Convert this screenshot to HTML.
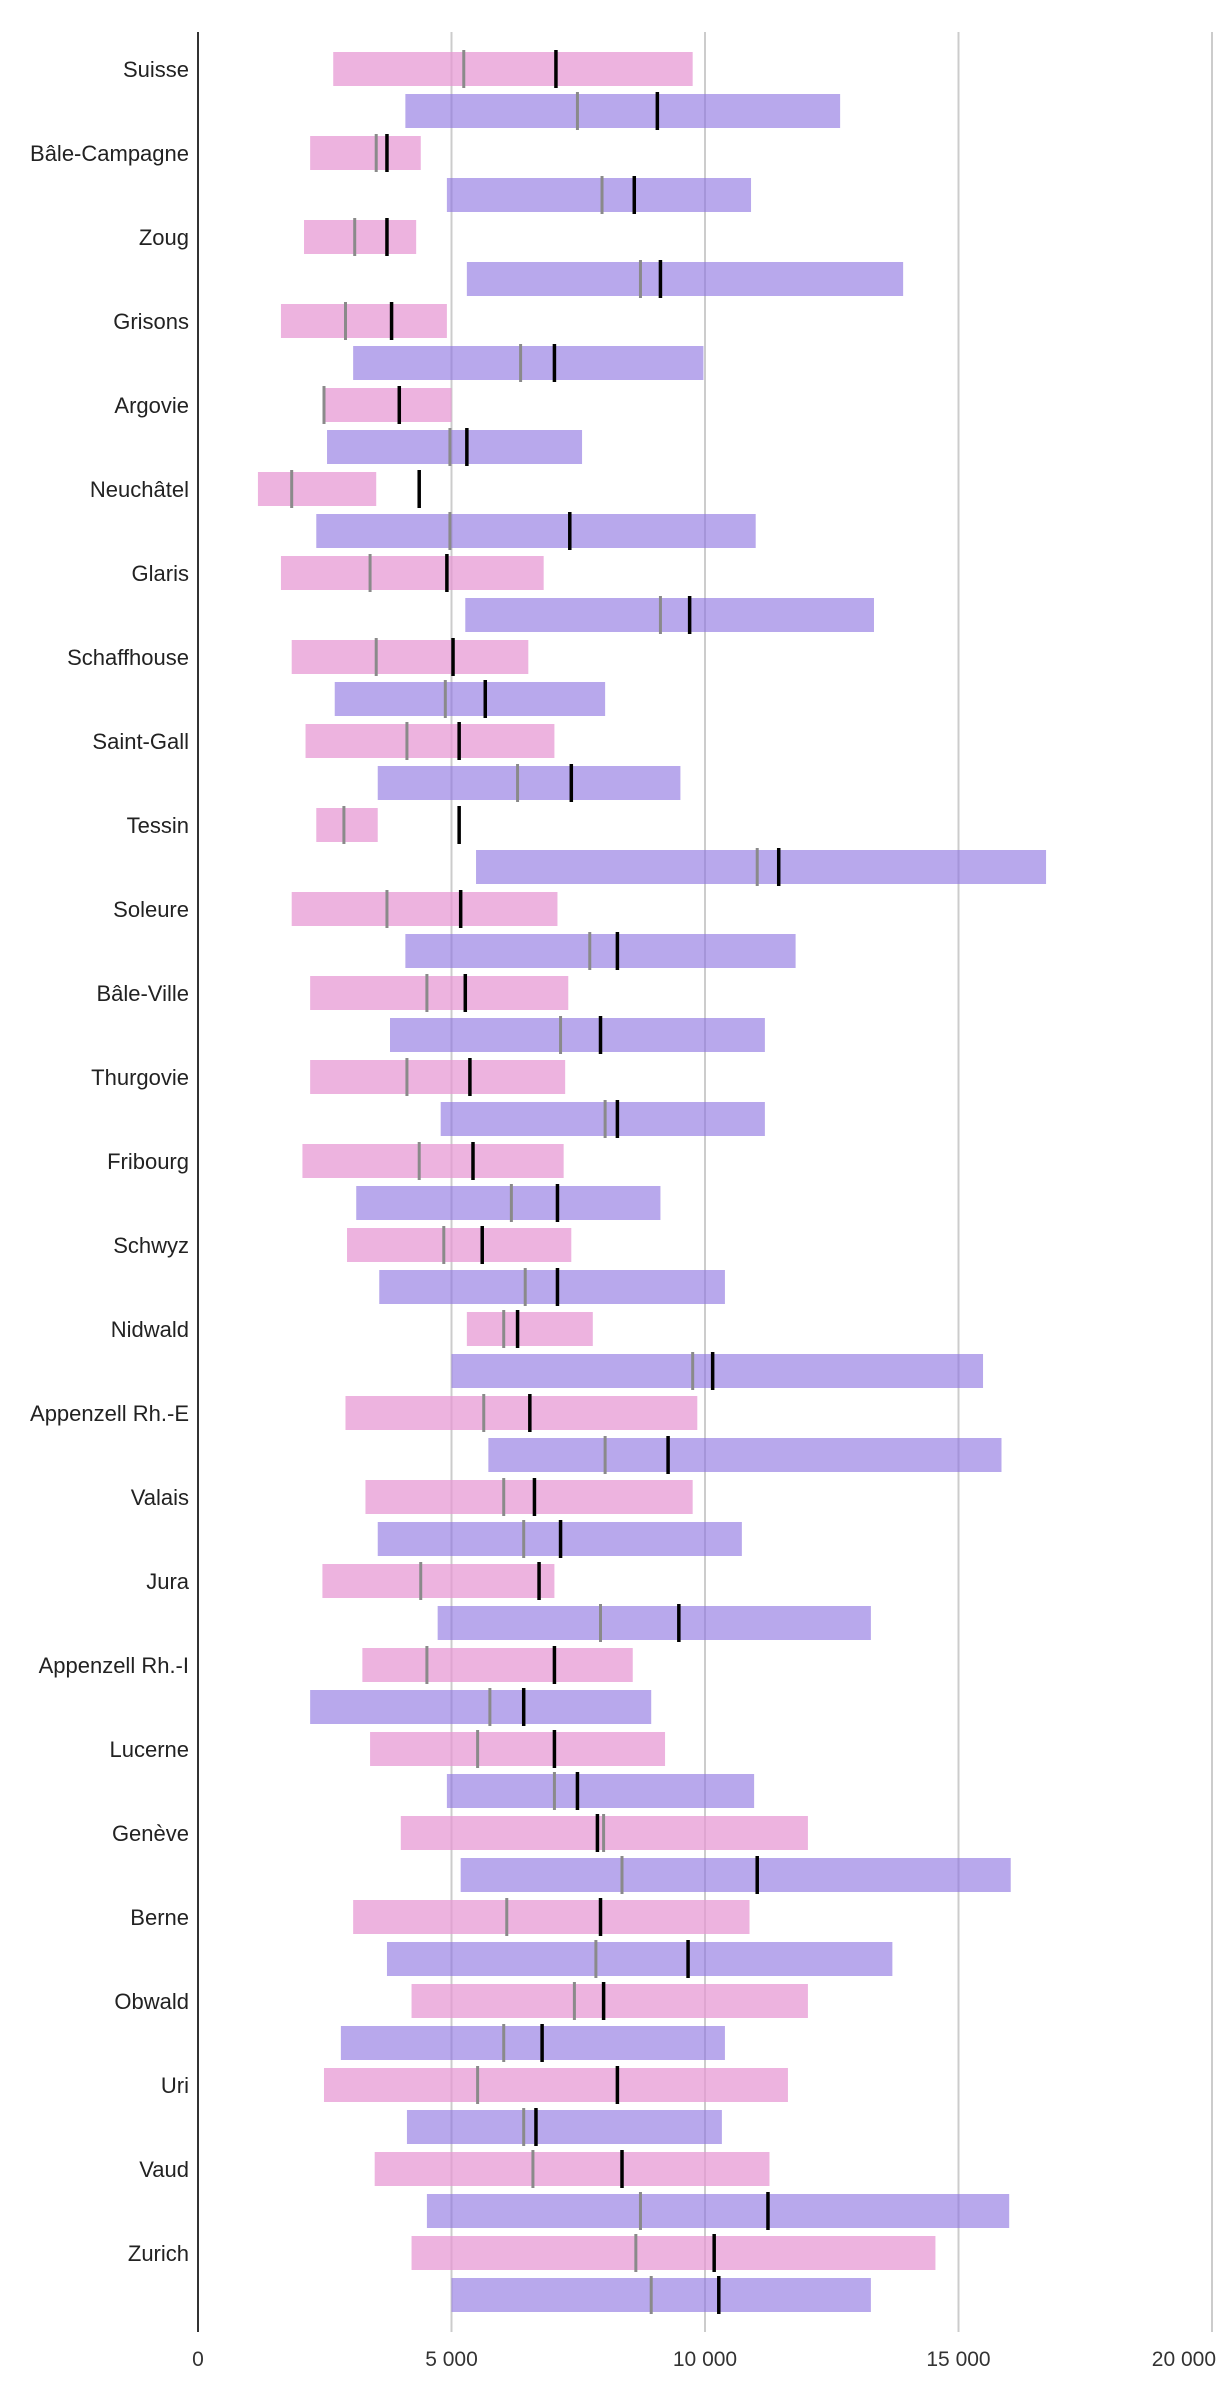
<!DOCTYPE html>
<html><head><meta charset="utf-8"><style>
body{margin:0;background:#fff}
svg{display:block}
text{font-family:"Liberation Sans",sans-serif}
</style></head><body>
<svg id="chart" width="1220" height="2390" xmlns="http://www.w3.org/2000/svg"></svg>
<script>
const categories=["Suisse","Bâle-Campagne","Zoug","Grisons","Argovie","Neuchâtel","Glaris","Schaffhouse","Saint-Gall","Tessin","Soleure","Bâle-Ville","Thurgovie","Fribourg","Schwyz","Nidwald","Appenzell Rh.-E","Valais","Jura","Appenzell Rh.-I","Lucerne","Genève","Berne","Obwald","Uri","Vaud","Zurich"];
const pinkStart=[2667,2212,2091,1636,2485,1182,1636,1848,2121,2333,1848,2212,2212,2060,2939,5303,2909,3303,2454,3242,3394,4000,3060,4212,2485,3485,4212];
const pinkEnd=[9757,4394,4303,4909,5000,3515,6818,6515,7030,3545,7090,7303,7242,7212,7363,7787,9848,9757,7030,8575,9212,12030,10878,12030,11636,11272,14545];
const pinkGray=[5242,3515,3091,2909,2485,1848,3394,3515,4121,2878,3727,4515,4121,4363,4848,6030,5636,6030,4393,4515,5515,8000,6090,7424,5515,6606,8636];
const pinkBlack=[7060,3727,3727,3818,3970,4363,4909,5030,5151,5151,5181,5272,5363,5424,5606,6303,6545,6636,6727,7030,7030,7878,7939,8000,8272,8363,10181];
const purpleStart=[4090,4909,5303,3060,2545,2333,5272,2697,3545,5484,4090,3787,4787,3121,3575,5000,5727,3545,4727,2212,4909,5181,3727,2818,4121,4515,5000];
const purpleEnd=[12665,10908,13908,9969,7575,11000,13333,8030,9515,16727,11787,11181,11181,9121,10393,15484,15848,10727,13272,8939,10969,16030,13696,10393,10333,16000,13272];
const purpleGray=[7484,7969,8727,6363,4969,4969,9121,4878,6303,11030,7727,7151,8030,6181,6454,9757,8030,6424,7939,5757,7030,8363,7848,6030,6424,8727,8939];
const purpleBlack=[9060,8605,9121,7030,5303,7333,9697,5666,7363,11454,8272,7939,8272,7090,7090,10151,9272,7151,9484,6424,7484,11030,9666,6787,6666,11242,10272];
const ticks=[0,5000,10000,15000,20000];
const tickLabels=["0","5 000","10 000","15 000","20 000"];

const svg=document.getElementById('chart');
const NS='http://www.w3.org/2000/svg';
const x=v=>198+v*(1212-198)/20000;
const rowTop=i=>52+i*84;
function mk(tag,attrs){const e=document.createElementNS(NS,tag);for(const k in attrs)e.setAttribute(k,attrs[k]);svg.appendChild(e);return e;}

ticks.forEach((t,i)=>{
  if(t>0){const g=mk('line',{x1:x(t),x2:x(t),y1:32,y2:2332,stroke:'#cccccc','stroke-width':2});
  
  }
  const last=i===ticks.length-1;
  const tl=mk('text',{x:last?1216:x(t),y:2366,'text-anchor':last?'end':'middle','font-size':21,fill:'#333'});
  tl.textContent=tickLabels[i];
  
  
});
const ax=mk('line',{x1:198,x2:198,y1:32,y2:2332,stroke:'#333','stroke-width':2});



categories.forEach((c,i)=>{
  const y0=rowTop(i);
  const lb=mk('text',{x:189,y:y0+17+8,'text-anchor':'end','font-size':22,fill:'#222'});
  lb.textContent=c;
  
  
  [[pinkStart,pinkEnd,pinkGray,pinkBlack,'rgba(230,150,210,0.72)',0,'pink'],[purpleStart,purpleEnd,purpleGray,purpleBlack,'rgba(140,115,225,0.62)',42,'purple']].forEach(s=>{
    const yt=y0+s[5];
    const r=mk('rect',{x:x(s[0][i]),y:yt,width:x(s[1][i])-x(s[0][i]),height:34,fill:s[4]});
    
    
    const g=mk('line',{x1:x(s[2][i]),x2:x(s[2][i]),y1:yt-2,y2:yt+36,stroke:'#8a8a8a','stroke-width':3});
    
    
    const b=mk('line',{x1:x(s[3][i]),x2:x(s[3][i]),y1:yt-2,y2:yt+36,stroke:'#000','stroke-width':3.5});
    
    
  });
});
</script>
</body></html>
